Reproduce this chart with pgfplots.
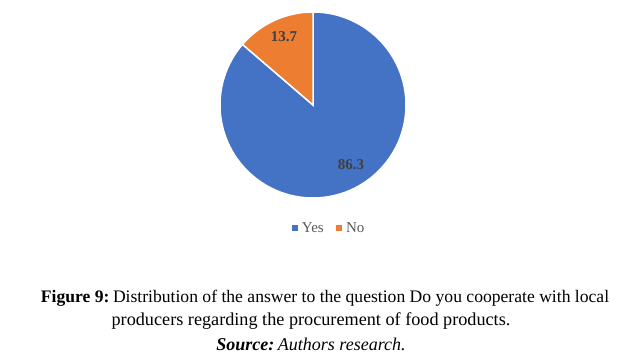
\documentclass[border=0pt]{standalone}
\usepackage{pgfplots}
\usepackage{pgfplotstable}
\pgfplotsset{compat=1.18}
\usepackage{fontspec}
\setmainfont{Liberation Serif}
\definecolor{pieblue}{HTML}{4472C4}
\definecolor{pieorange}{HTML}{ED7D31}
\definecolor{lbl}{HTML}{404040}
\definecolor{leg}{HTML}{595959}
\pgfplotstableread{
label value
Yes 86.3
No 13.7
}\piedata
\pgfplotstablegetelem{0}{value}\of\piedata \let\yesval\pgfplotsretval
\pgfplotstablegetelem{1}{value}\of\piedata \let\noval\pgfplotsretval
\pgfmathsetmacro\noend{90+3.6*\noval}
\pgfmathsetmacro\yesend{\noend+3.6*\yesval}
\begin{document}
\begin{tikzpicture}
\begin{axis}[
  scale only axis, width=631pt, height=353pt,
  xmin=0, xmax=631, ymin=0, ymax=353,
  hide axis, clip=false,
  legend columns=2,
  legend style={draw=none, fill=none, at={(axis cs:329,125)}, anchor=center,
    font=\fontsize{15}{17}\selectfont, text=leg,
    /tikz/every even column/.append style={column sep=10pt}},
  legend image code/.code={\fill[#1] (0pt,-2.5pt) rectangle (5pt,2.5pt); \path (8pt,0pt);},
]
\addlegendimage{pieblue}
\addlegendentry{Yes}
\addlegendimage{pieorange}
\addlegendentry{No}
\fill[pieblue, draw=white, line width=1.5pt] (axis cs:313,248) -- ++(\noend:93pt) arc[start angle=\noend, end angle=\yesend, radius=93pt] -- cycle;
\fill[pieorange, draw=white, line width=1.5pt] (axis cs:313,248) -- ++(90:93pt) arc[start angle=90, end angle=\noend, radius=93pt] -- cycle;
\node[font=\bfseries\fontsize{15}{17}\selectfont, text=lbl] at (axis cs:284,316) {\noval};
\node[font=\bfseries\fontsize{15}{17}\selectfont, text=lbl] at (axis cs:351,188) {\yesval};
\node[font=\fontsize{17.6}{20}\selectfont] at (axis cs:325,55) {\textbf{Figure 9:}\hspace{0.2em}Distribution of the answer to the question Do you cooperate with local};
\node[font=\fontsize{18.2}{20}\selectfont] at (axis cs:311,32) {producers regarding the procurement of food products.};
\node[font=\fontsize{18}{20}\selectfont] at (axis cs:311,9) {\textbf{\textit{Source:}}\hspace{0.2em}\textit{Authors research.}};
\end{axis}
\pgfresetboundingbox
\useasboundingbox (0,0) rectangle (631pt,353pt);
\end{tikzpicture}
\end{document}
